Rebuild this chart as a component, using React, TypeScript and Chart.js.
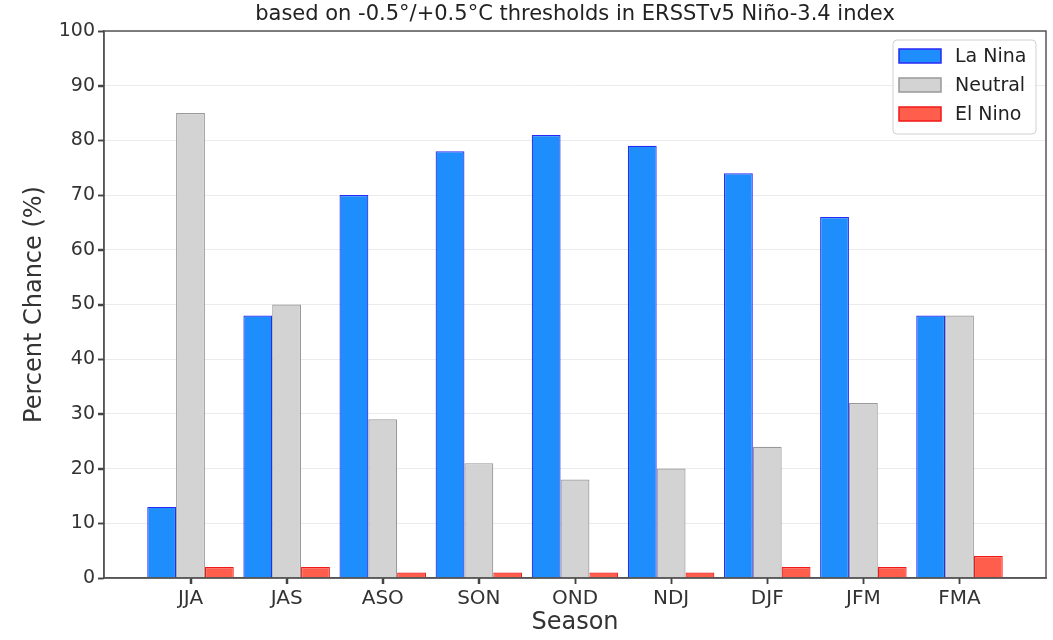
import React, { useEffect, useRef } from "react";
import { Chart, registerables } from "chart.js";

Chart.register(...registerables);

const seasons = ["JJA", "JAS", "ASO", "SON", "OND", "NDJ", "DJF", "JFM", "FMA"];
const laNina = [13, 48, 70, 78, 81, 79, 74, 66, 48];
const neutral = [85, 50, 29, 21, 18, 20, 24, 32, 48];
const elNino = [2, 2, 1, 1, 1, 1, 2, 2, 4];
const yTicks = [0, 10, 20, 30, 40, 50, 60, 70, 80, 90, 100];

const titleText = "based on -0.5°/+0.5°C thresholds in ERSSTv5 Niño-3.4 index";
const FONT = "'DejaVu Sans', sans-serif";

const framePlugin = {
  id: "frameAndLegend",
  afterDraw(chart: any) {
    const { ctx, chartArea } = chart;
    ctx.save();
    ctx.strokeStyle = "#555555";
    ctx.lineWidth = 1.5;
    ctx.strokeRect(chartArea.left, chartArea.top, chartArea.right - chartArea.left, chartArea.bottom - chartArea.top);

    // outward tick marks
    ctx.strokeStyle = "#444444";
    ctx.lineWidth = 1.5;
    ctx.beginPath();
    seasons.forEach((_, i) => {
      const px = Math.round(chart.scales.x.getPixelForValue(i)) + 0.5;
      ctx.moveTo(px, chartArea.bottom);
      ctx.lineTo(px, chartArea.bottom + 6);
    });
    yTicks.forEach((v) => {
      const py = Math.round(chart.scales.y.getPixelForValue(v)) + 0.5;
      ctx.moveTo(chartArea.left, py);
      ctx.lineTo(chartArea.left - 6, py);
    });
    ctx.stroke();

    // title centred over the plot area
    ctx.fillStyle = "#222222";
    ctx.font = `21px ${FONT}`;
    ctx.textAlign = "center";
    ctx.textBaseline = "middle";
    ctx.fillText(titleText, (chartArea.left + chartArea.right) / 2, 15);

    // legend inside plot, top-right
    const boxW = 143;
    const boxH = 94;
    const bx = chartArea.right - 10 - boxW;
    const by = chartArea.top + 9;
    ctx.fillStyle = "rgba(255,255,255,0.85)";
    ctx.strokeStyle = "#d0d0d0";
    ctx.lineWidth = 1;
    ctx.beginPath();
    (ctx as any).roundRect(bx, by, boxW, boxH, 4);
    ctx.fill();
    ctx.stroke();
    ctx.font = `19px ${FONT}`;
    ctx.textAlign = "left";
    chart.data.datasets.forEach((ds: any, i: number) => {
      const cy = by + 16 + i * 29;
      ctx.fillStyle = ds.backgroundColor;
      ctx.strokeStyle = ds.borderColor;
      ctx.lineWidth = 1.5;
      ctx.fillRect(bx + 6, cy - 7, 42, 14);
      ctx.strokeRect(bx + 6, cy - 7, 42, 14);
      ctx.fillStyle = "#222222";
      ctx.fillText(ds.label, bx + 62, cy + 1);
    });
    ctx.restore();
  },
};

export default function App() {
  const ref = useRef<HTMLCanvasElement>(null);
  useEffect(() => {
    document.body.style.margin = "0";
    const mk = (vals: number[]) => vals.map((v, i) => ({ x: i, y: v }));
    const chart = new Chart(ref.current!, {
      type: "bar",
      data: {
        datasets: [
          { label: "La Nina", data: mk(laNina), backgroundColor: "#1E8EFC", borderColor: "#2a2af5", borderWidth: 1.2 },
          { label: "Neutral", data: mk(neutral), backgroundColor: "#D3D3D3", borderColor: "#999999", borderWidth: 1.2 },
          { label: "El Nino", data: mk(elNino), backgroundColor: "#FF5E4C", borderColor: "#f01818", borderWidth: 1.2 },
        ],
      },
      options: {
        animation: false,
        responsive: false,
        maintainAspectRatio: false,
        layout: { padding: { left: 20, right: 7, top: 31, bottom: 0 } },
        datasets: { bar: { categoryPercentage: 0.9, barPercentage: 1.0 } },
        plugins: {
          legend: { display: false },
          tooltip: { enabled: false },
          title: { display: false },
        },
        scales: {
          x: {
            type: "linear",
            min: -0.9,
            max: 8.9,
            offset: false,
            grid: {
              offset: false,
              drawOnChartArea: false,
              drawTicks: true,
              tickLength: 6,
              tickColor: "#444444",
              tickWidth: 1.5,
            },
            border: { display: true, color: "#555555", width: 1.5 },
            afterBuildTicks: (scale: any) => {
              scale.ticks = seasons.map((_, i) => ({ value: i }));
            },
            ticks: {
              autoSkip: false,
              maxRotation: 0,
              color: "#333333",
              padding: 3,
              font: { family: FONT, size: 20 },
              callback: (v: any) => seasons[v] ?? "",
            },
            title: {
              display: true,
              text: "Season",
              color: "#333333",
              font: { family: FONT, size: 24 },
              padding: { top: 2, bottom: 3 },
            },
            afterFit: (scale: any) => {
              scale.height = 62;
            },
          },
          y: {
            min: 0,
            max: 100,
            afterBuildTicks: (scale: any) => {
              scale.ticks = yTicks.map((v) => ({ value: v }));
            },
            grid: { color: "#ebebeb", lineWidth: 1, tickColor: "#444444", tickWidth: 1.5, tickLength: 6 },
            border: { display: true, color: "#555555", width: 1.5 },
            ticks: { color: "#333333", padding: 3, font: { family: FONT, size: 19 } },
            title: {
              display: true,
              text: "Percent Chance (%)",
              color: "#333333",
              font: { family: FONT, size: 24 },
              padding: { top: 0, bottom: 4 },
            },
            afterFit: (scale: any) => {
              scale.width = 84;
            },
          },
        },
      },
      plugins: [framePlugin],
    });
    return () => chart.destroy();
  }, []);
  return (
    <div style={{ width: 1053, height: 640 }}>
      <canvas ref={ref} width={1053} height={640} style={{ display: "block" }} />
    </div>
  );
}
